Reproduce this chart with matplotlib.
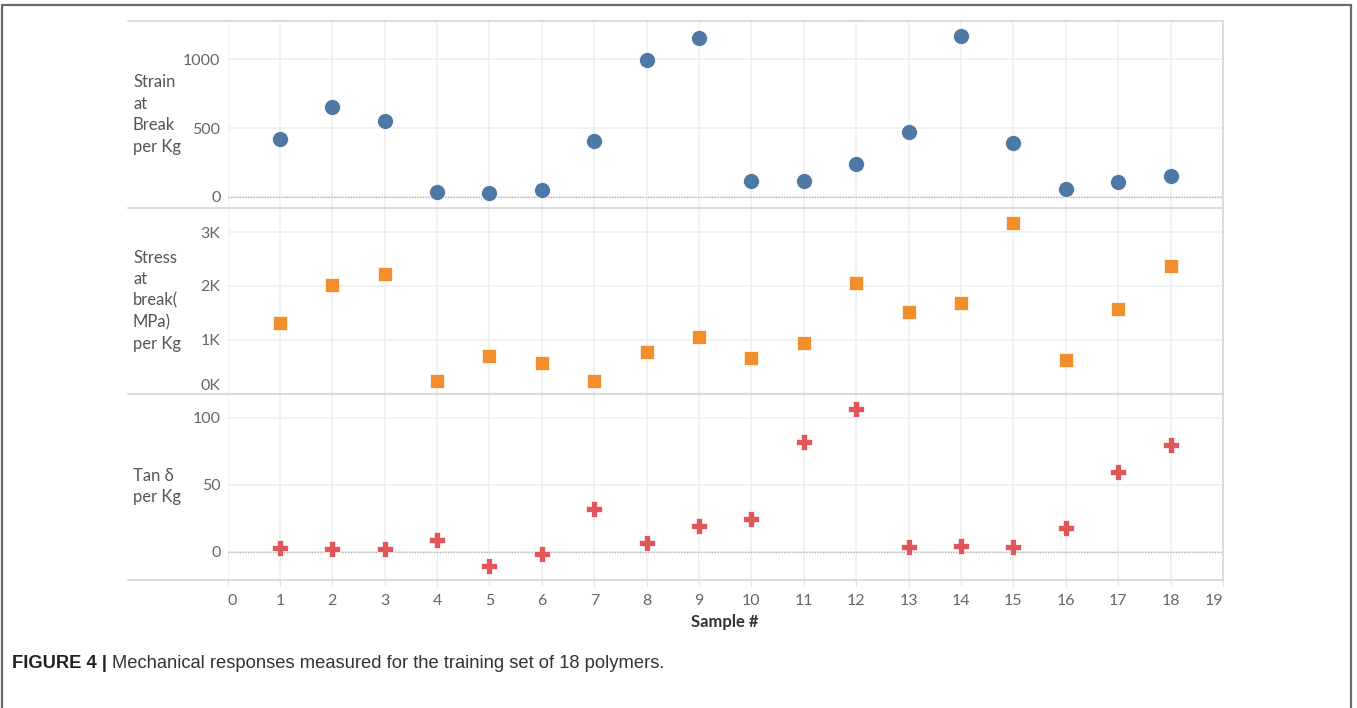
import numpy as np
import matplotlib
matplotlib.use('Agg')
from matplotlib import pyplot as plt
from matplotlib.lines import Line2D
from matplotlib.patches import Rectangle

plt.rcParams['font.family'] = ['Lato', 'DejaVu Sans']

# Mechanical responses for the 18 training polymers
samples = np.arange(1, 19)
strain_break = [417, 655, 552, 38, 28, 51, 404, 992, 1154,
                114, 114, 237, 468, 1167, 395, 60, 106, 155]
stress_break = [1307, 2024, 2222, 241, 691, 574, 241, 770, 1055,
                667, 931, 2049, 1518, 1678, 3166, 623, 1573, 2370]
tan_delta = [3.0, 2.0, 2.2, 8.9, -10.4, -1.7, 32.0, 6.7, 19.6,
             24.6, 81.8, 106.1, 3.5, 4.7, 3.5, 17.6, 59.8, 79.9]

row_labels = ['Strain\nat\nBreak\nper Kg',
              'Stress\nat\nbreak(\nMPa)\nper Kg',
              'Tan \u03b4\nper Kg']
y_ticks = [[0, 500, 1000], [0, 1000, 2000, 3000], [0, 50, 100]]
y_ticklabels = [['0', '500', '1000'], ['0K', '1K', '2K', '3K'], ['0', '50', '100']]
y_limits = [(-81, 1278), (0, 3450), (-21, 118)]
x_ticks = list(range(0, 20))

series = [strain_break, stress_break, tan_delta]
colors = ['#4e79a7', '#f28e2b', '#e15759']
markers = ['o', 's', 'P']
msizes = [11.5, 10, 12]

W, H = 1357, 708
fig = plt.figure(figsize=(W / 100, H / 100), dpi=100)

def fx(px):
    return px / W

def fy(py):
    return 1 - py / H

x_left, x_right = 227.5, 1223
pane_edges = [21, 208, 393.5, 580]
txt_col = '#666666'
grid_col = '#efefef'

axes = []
for i in range(3):
    top, bot = pane_edges[i], pane_edges[i + 1]
    ax = fig.add_axes([fx(x_left), fy(bot), fx(x_right - x_left), (bot - top) / H])
    ax.set_xlim(0, 19)
    ax.set_ylim(*y_limits[i])
    ax.set_xticks(x_ticks)
    ax.set_yticks(y_ticks[i])
    ax.set_yticklabels(y_ticklabels[i])
    ax.grid(True, color=grid_col, lw=1.1, zorder=0)
    ax.set_axisbelow(True)
    ax.axhline(0, color='#b5b5b5', lw=1, ls=(0, (1, 1)), zorder=1)
    for s in ['top', 'bottom', 'left']:
        ax.spines[s].set_visible(False)
    ax.spines['right'].set_color('#d6d6d6')
    ax.spines['right'].set_linewidth(1.2)
    ax.tick_params(axis='y', length=0, pad=5, labelsize=11.5, labelcolor=txt_col)
    if i < 2:
        ax.tick_params(axis='x', length=0, labelbottom=False)
    else:
        ax.tick_params(axis='x', length=4, color='#e2e2e2', pad=6,
                       labelsize=11.5, labelcolor=txt_col)
    ax.plot(samples, series[i], ls='none', marker=markers[i], ms=msizes[i],
            mfc=colors[i], mec='white', mew=0.5, zorder=3, clip_on=False)
    fig.text(fx(133), fy((top + bot) / 2), row_labels[i], ha='left', va='center',
             fontsize=12, color='#555555', linespacing=1.42)
    axes.append(ax)

# keep the edge labels inside the pane, as Tableau does
xt = axes[2].get_xticklabels()
xt[0].set_horizontalalignment('left')
xt[-1].set_horizontalalignment('right')
axes[1].get_yticklabels()[0].set_verticalalignment('bottom')

# pane separators running under the row headers
for py in pane_edges:
    fig.add_artist(Line2D([fx(128), fx(x_right)], [fy(py), fy(py)],
                          color='#d6d6d6', lw=1.2))

fig.text(fx(x_left + x_right) / 2, fy(622), 'Sample #', ha='center', va='center',
         fontsize=12, fontweight='bold', color='#333333')

# outer frame
fig.add_artist(Rectangle((fx(2), -0.02), fx(1349), fy(5) + 0.02, fill=False,
                         ec='#6a6a6a', lw=1.6, transform=fig.transFigure))

# caption
cap1 = fig.text(fx(12), fy(663), 'FIGURE 4 |', ha='left', va='center', fontsize=13.2,
                fontweight='bold', color='#222222', family='Liberation Sans')
r = fig.canvas.get_renderer()
bb = cap1.get_window_extent(renderer=r)
fig.text(bb.x1 / W + fx(5), fy(663),
         'Mechanical responses measured for the training set of 18 polymers.',
         ha='left', va='center', fontsize=13.2, color='#333333', family='Liberation Sans')

fig.savefig('out.png', dpi=100)
